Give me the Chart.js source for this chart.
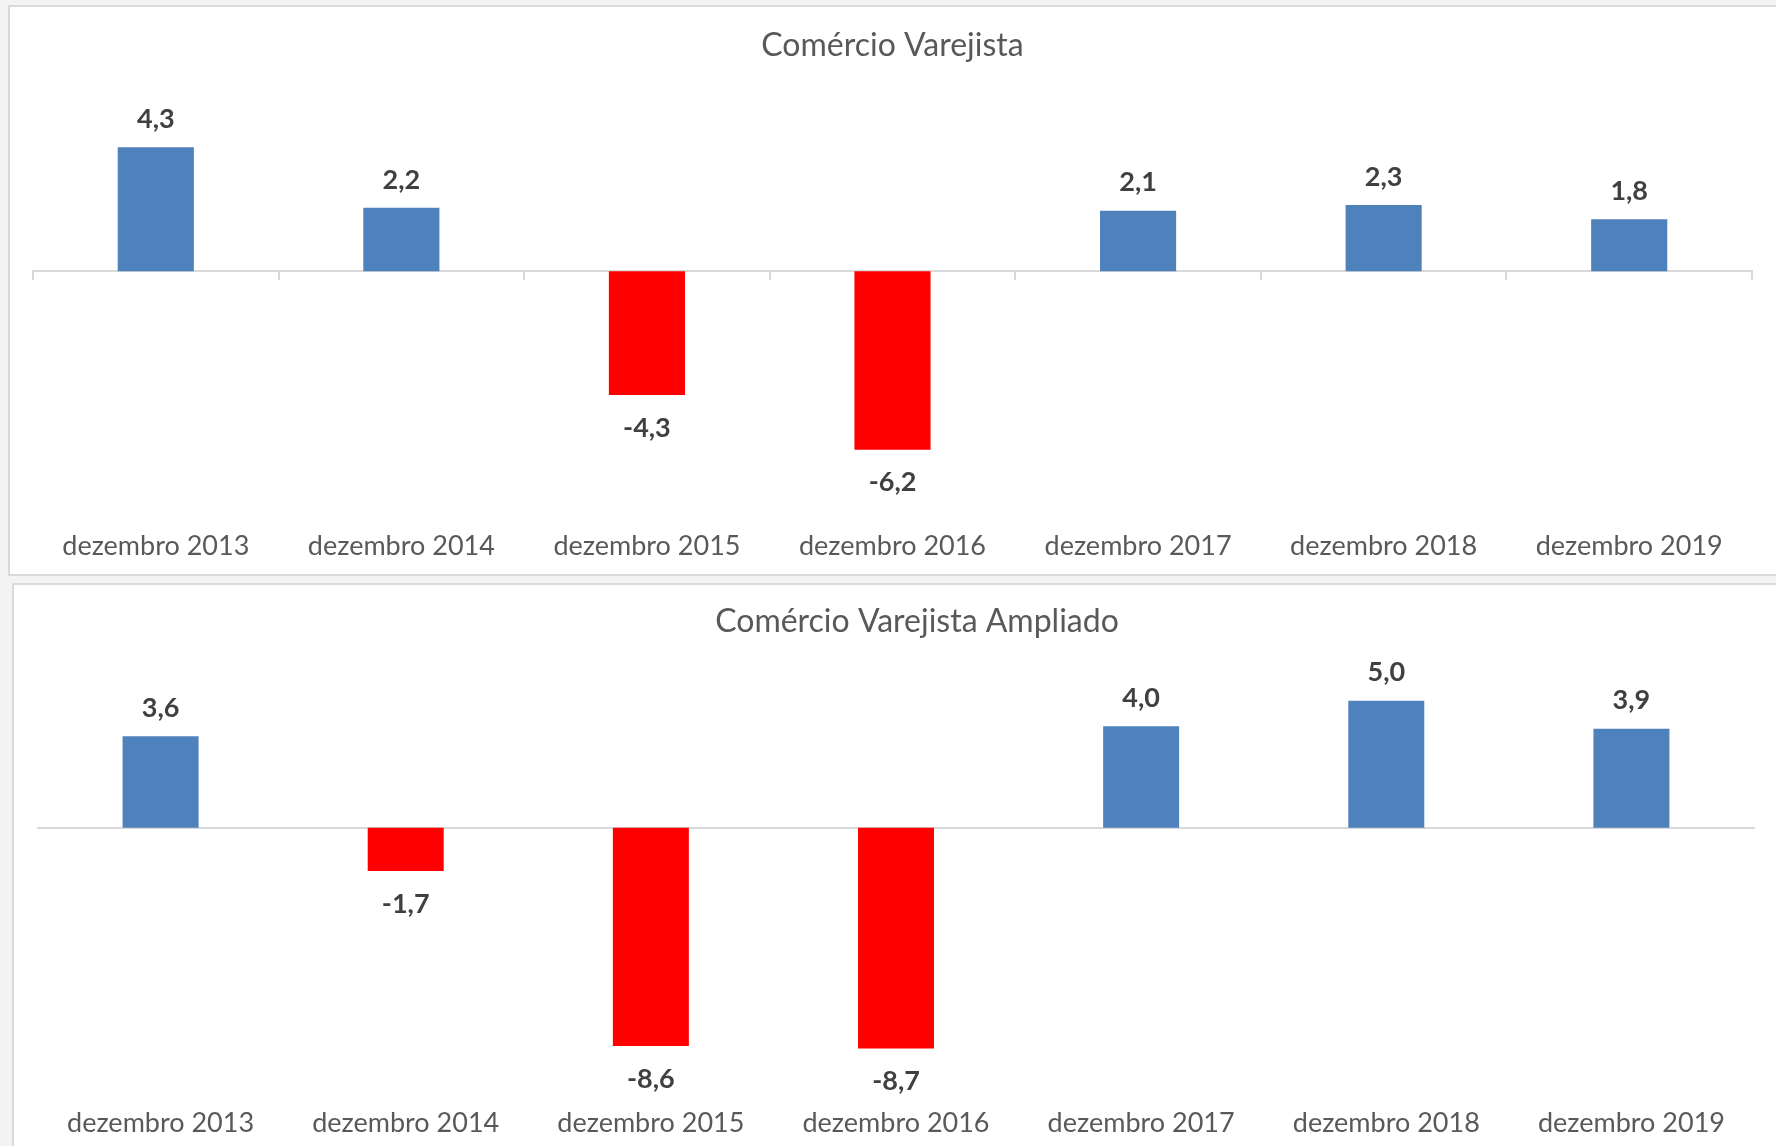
<!DOCTYPE html>
<html lang="pt">
<head>
<meta charset="UTF-8">
<title>Comércio Varejista</title>
<script src="https://cdn.jsdelivr.net/npm/chart.js"></script>
<style>
  body { margin: 0; background: #f3f3f3; width: 1776px; height: 1146px; overflow: hidden; position: relative; font-family: Lato, sans-serif; }
  .panel { position: absolute; box-sizing: border-box; border: 2px solid #dadada; background: #fff; }
  .inner { position: relative; width: 100%; height: 100%; }
</style>
</head>
<body>
<div class="panel" style="left:8px;top:5px;width:1772px;height:571px">
  <div class="inner"><canvas id="chart1"></canvas></div>
</div>
<div class="panel" style="left:12px;top:583px;width:1790px;height:600px">
  <div class="inner"><canvas id="chart2"></canvas></div>
</div>
<script>
// data
const categories = ['dezembro 2013', 'dezembro 2014', 'dezembro 2015', 'dezembro 2016', 'dezembro 2017', 'dezembro 2018', 'dezembro 2019'];
const varejista = [4.3, 2.2, -4.3, -6.2, 2.1, 2.3, 1.8];
const ampliado = [3.6, -1.7, -8.6, -8.7, 4.0, 5.0, 3.9];

const BLUE = '#4f81bd';
const RED = '#ff0000';
const GREY_TEXT = '#595959';

// value labels above / below each bar
const valueLabels = {
  id: 'valueLabels',
  afterDatasetsDraw(chart) {
    const ctx = chart.ctx;
    const ds = chart.data.datasets[0];
    const meta = chart.getDatasetMeta(0);
    ctx.save();
    ctx.font = 'bold 27px Lato';
    ctx.fillStyle = '#404040';
    ctx.textAlign = 'center';
    ctx.textBaseline = 'middle';
    meta.data.forEach((bar, i) => {
      const v = ds.data[i];
      const txt = v.toFixed(1).replace('.', ',');
      const y = v >= 0 ? bar.y - 28 : bar.y + 33;
      ctx.fillText(txt, bar.x, y);
    });
    ctx.restore();
  }
};

function makeChart(id, title, values, opts) {
  const scales = {
    x: {
      grid: { display: false, drawTicks: false },
      border: { display: false },
      ticks: {
        color: GREY_TEXT,
        font: { family: 'Lato', size: 27 },
        padding: opts.labelPadding,
        maxRotation: 0,
        autoSkip: false
      }
    },
    // axis line at zero with the small category ticks
    x2: {
      type: 'category',
      position: { y: 0 },
      z: 1,
      grid: {
        offset: true,
        drawOnChartArea: false,
        drawTicks: opts.tickLength > 0,
        tickLength: opts.tickLength,
        color: '#d9d9d9',
        lineWidth: 2
      },
      border: { display: true, color: '#d9d9d9', width: 2 },
      ticks: { display: false }
    },
    y: {
      display: false,
      min: opts.min,
      max: opts.max
    }
  };
  // empty space on the right so the title sits where the reference has it
  if (opts.extraRight) {
    scales.y2 = {
      position: 'right',
      grid: { display: false },
      border: { display: false },
      ticks: { display: false },
      afterFit: s => { s.width = opts.extraRight; }
    };
  }
  return new Chart(document.getElementById(id), {
    type: 'bar',
    data: {
      labels: categories,
      datasets: [{
        data: values,
        backgroundColor: c => c.raw < 0 ? RED : BLUE,
        barPercentage: 0.31,
        categoryPercentage: 1
      }]
    },
    options: {
      responsive: true,
      maintainAspectRatio: false,
      animation: false,
      layout: { padding: opts.padding },
      plugins: {
        legend: { display: false },
        tooltip: { enabled: false },
        title: {
          display: true,
          text: title,
          color: GREY_TEXT,
          font: { family: 'Lato', size: 32, weight: 'normal' },
          padding: opts.titlePadding
        }
      },
      scales: scales
    },
    plugins: [valueLabels]
  });
}

makeChart('chart1', 'Comércio Varejista', varejista, {
  min: -8, max: 6,
  padding: { left: 23, right: 26, top: 0, bottom: -16 },
  titlePadding: { top: 19, bottom: 34 },
  labelPadding: 28,
  tickLength: 8
});

makeChart('chart2', 'Comércio Varejista Ampliado', ampliado, {
  min: -10, max: 6,
  padding: { left: 24, right: 4, top: 0, bottom: 17 },
  titlePadding: { top: 17, bottom: 35 },
  labelPadding: 25,
  tickLength: 0,
  extraRight: 42
});
</script>
</body>
</html>
